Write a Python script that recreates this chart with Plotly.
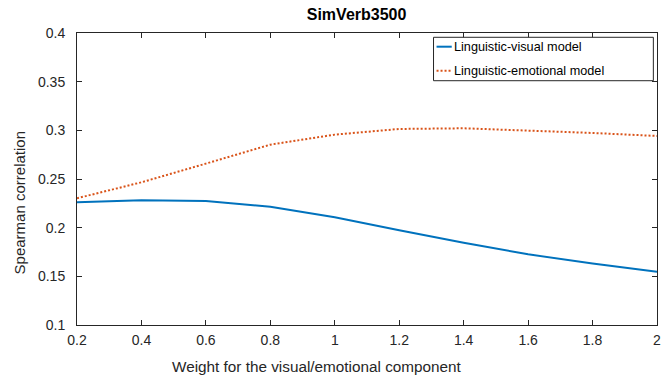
import plotly.graph_objects as go

# Weight applied to the visual / emotional component
weights = [0.2, 0.4, 0.6, 0.8, 1.0, 1.2, 1.4, 1.6, 1.8, 2.0]

# Spearman correlation on SimVerb3500
visual_model = [0.2260, 0.2281, 0.2274, 0.2216, 0.2108, 0.1973, 0.1846, 0.1726, 0.1631, 0.1548]
emotional_model = [0.2302, 0.2466, 0.2658, 0.2853, 0.2956, 0.3014, 0.3021, 0.3000, 0.2973, 0.2942]

series_names = ["Linguistic-visual model", "Linguistic-emotional model"]
series_colors = ["#0072BD", "#D95319"]
series_dash = ["solid", "2px,2px"]

x_tick_vals = [0.2, 0.4, 0.6, 0.8, 1.0, 1.2, 1.4, 1.6, 1.8, 2.0]
x_tick_text = ["0.2", "0.4", "0.6", "0.8", "1", "1.2", "1.4", "1.6", "1.8", "2"]
y_tick_vals = [0.1, 0.15, 0.2, 0.25, 0.3, 0.35, 0.4]
y_tick_text = ["0.1", "0.15", "0.2", "0.25", "0.3", "0.35", "0.4"]

FONT = "Liberation Sans, Arial, sans-serif"
AXIS_COLOR = "#262626"

fig = go.Figure()
for ys, name, color, dash in zip([visual_model, emotional_model], series_names,
                                 series_colors, series_dash):
    fig.add_trace(go.Scatter(
        x=weights, y=ys, mode="lines", name=name, showlegend=False,
        line=dict(color=color, width=2, dash=dash),
    ))

axis_common = dict(
    showgrid=False, zeroline=False,
    showline=True, linecolor=AXIS_COLOR, linewidth=1,
    mirror="ticks", ticks="inside", ticklen=5, tickwidth=1, tickcolor=AXIS_COLOR,
    tickfont=dict(family=FONT, size=14, color=AXIS_COLOR),
)

# Boxed legend in the upper-right corner of the axes
legend_box = dict(x0=0.6147, x1=0.9937, y0=0.8366, y1=0.9853)
legend_rows_y = [0.9531, 0.8709]
shapes = [dict(type="rect", xref="paper", yref="paper", line=dict(color=AXIS_COLOR, width=1),
               fillcolor="white", layer="above", **legend_box)]
annotations = []
for name, color, dash, ry in zip(series_names, series_colors, series_dash, legend_rows_y):
    shapes.append(dict(type="line", xref="paper", yref="paper", layer="above",
                       x0=0.6199, x1=0.6461, y0=ry, y1=ry,
                       line=dict(color=color, width=2, dash=dash)))
    annotations.append(dict(text=name, xref="paper", yref="paper", x=0.6473, y=ry,
                            xanchor="left", yanchor="middle", showarrow=False,
                            font=dict(family=FONT, size=12.7, color="black")))

# Axis titles
annotations.append(dict(text="Weight for the visual/emotional component",
                        xref="paper", yref="paper", x=0.4144, y=-0.1438,
                        xanchor="center", yanchor="middle", showarrow=False,
                        font=dict(family=FONT, size=15.3, color=AXIS_COLOR)))
annotations.append(dict(text="Spearman correlation", textangle=-90,
                        xref="paper", yref="paper", x=-0.0993, y=0.4178,
                        xanchor="center", yanchor="middle", showarrow=False,
                        font=dict(family=FONT, size=15, color=AXIS_COLOR)))

fig.update_layout(
    width=669, height=378,
    margin=dict(l=77, r=8, t=33, b=53),
    paper_bgcolor="white", plot_bgcolor="white",
    title=dict(
        text="<b>SimVerb3500</b>", xref="container", x=0.533, xanchor="center",
        y=0.963, yanchor="middle",
        font=dict(family=FONT, size=16, color="black"),
    ),
    xaxis=dict(range=[0.2, 2.0], tickvals=x_tick_vals, ticktext=x_tick_text,
               ticklabelstandoff=2, **axis_common),
    yaxis=dict(range=[0.1, 0.4], tickvals=y_tick_vals, ticktext=y_tick_text,
               ticklabelstandoff=8, **axis_common),
    shapes=shapes,
    annotations=annotations,
)

fig.write_html("out.html")
